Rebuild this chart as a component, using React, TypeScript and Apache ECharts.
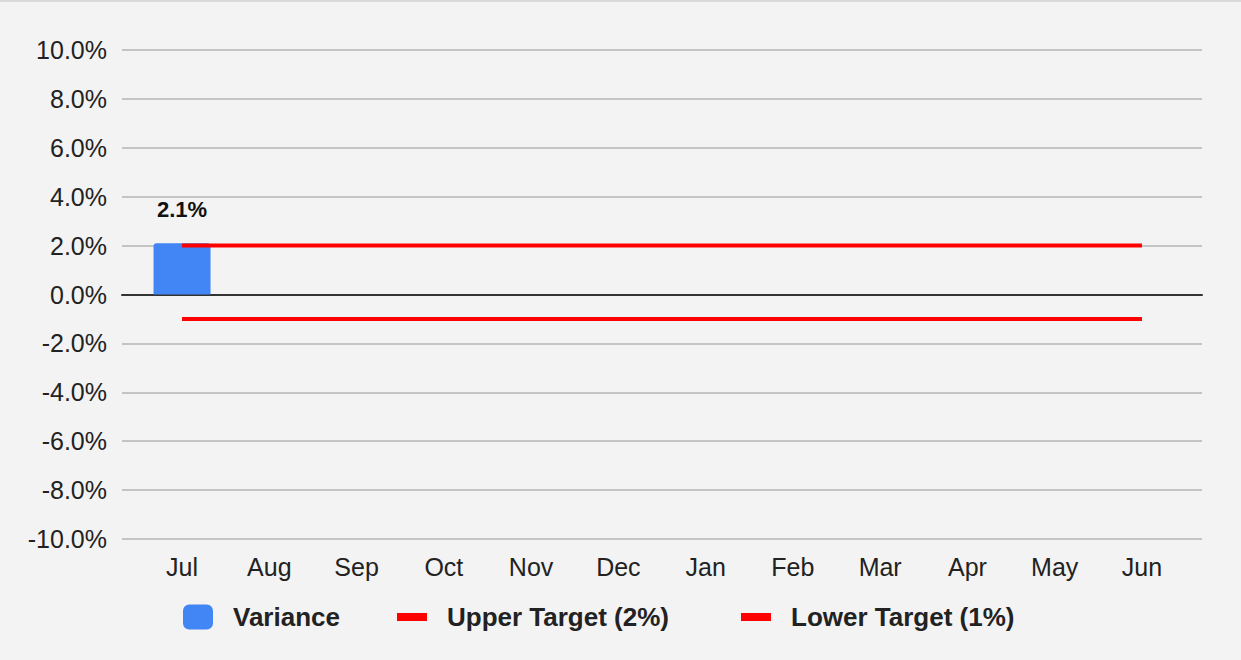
import React, { useEffect, useRef } from "react";
import * as echarts from "echarts";

const months = ["Jul", "Aug", "Sep", "Oct", "Nov", "Dec", "Jan", "Feb", "Mar", "Apr", "May", "Jun"];
const variance: (number | null)[] = [0.021, null, null, null, null, null, null, null, null, null, null, null];
const upperTarget = [0.02, 0.02, 0.02, 0.02, 0.02, 0.02, 0.02, 0.02, 0.02, 0.02, 0.02, 0.02];
const lowerTarget = [-0.01, -0.01, -0.01, -0.01, -0.01, -0.01, -0.01, -0.01, -0.01, -0.01, -0.01, -0.01];
const seriesNames = ["Variance", "Upper Target (2%)", "Lower Target (1%)"];
const yMin = -0.1;
const yMax = 0.1;
const yStep = 0.02;

const FONT = "'Liberation Sans', Arial, sans-serif";

function pct(v: number): string {
  const p = Math.round(v * 1000) / 10;
  return (p === 0 ? 0 : p).toFixed(1) + "%";
}

const legendText = {
  color: "#222222",
  fontSize: 26,
  fontWeight: "bold",
  fontFamily: FONT,
  padding: [0, 0, 0, 15],
};

export default function App() {
  const ref = useRef<HTMLDivElement>(null);
  useEffect(() => {
    document.body.style.margin = "0";
    const chart = echarts.init(ref.current!, null, { renderer: "svg" });
    const legendLefts = [183, 397, 741];
    const legendIcons = ["roundRect", "path://M0,0H30V8H0Z", "path://M0,0H30V8H0Z"];
    const legendColors = ["#4285f4", "#ff0000", "#ff0000"];
    chart.setOption({
      animation: false,
      backgroundColor: "#f3f3f3",
      textStyle: { fontFamily: FONT },
      graphic: [
        { type: "rect", left: 0, top: 0, shape: { width: 1241, height: 2 }, style: { fill: "#dadada" }, silent: true },
      ],
      grid: [
        { left: 122, right: 39, top: 50, bottom: 121 },
        { left: 138.4, right: 55.4, top: 50, bottom: 121 },
      ],
      xAxis: [
        {
          gridIndex: 0,
          type: "value",
          min: 0,
          max: 1,
          axisLabel: { show: false },
          axisTick: { show: false },
          splitLine: { show: false },
          axisLine: { show: true, onZero: true, lineStyle: { color: "#333333", width: 2 } },
        },
        {
          gridIndex: 1,
          type: "category",
          data: months,
          axisLine: { show: false },
          axisTick: { show: false },
          axisLabel: { color: "#222222", fontSize: 25, fontFamily: FONT, margin: 15, interval: 0 },
        },
      ],
      yAxis: [
        {
          gridIndex: 0,
          type: "value",
          min: yMin,
          max: yMax,
          interval: yStep,
          axisLine: { show: false },
          axisTick: { show: false },
          axisLabel: { color: "#222222", fontSize: 25, fontFamily: FONT, margin: 15, formatter: pct },
          splitLine: { show: true, lineStyle: { color: "#c4c4c4", width: 2 } },
        },
        {
          gridIndex: 1,
          type: "value",
          min: yMin,
          max: yMax,
          interval: yStep,
          show: false,
          splitLine: { show: false },
        },
      ],
      legend: seriesNames.map((name, i) => ({
        left: legendLefts[i],
        top: 604,
        padding: 0,
        itemWidth: 30,
        itemHeight: 25,
        textStyle: legendText,
        data: [{ name, icon: legendIcons[i], itemStyle: { color: legendColors[i] } }],
      })),
      series: [
        {
          name: seriesNames[0],
          type: "bar",
          xAxisIndex: 1,
          yAxisIndex: 1,
          data: variance,
          barWidth: 57,
          itemStyle: { color: "#4285f4", borderRadius: [3, 3, 0, 0] },
          label: {
            show: true,
            position: "top",
            distance: 23,
            color: "#111111",
            fontSize: 22,
            fontWeight: "bold",
            fontFamily: FONT,
            formatter: (p: any) => pct(p.value),
          },
        },
        {
          name: seriesNames[1],
          type: "line",
          xAxisIndex: 1,
          yAxisIndex: 1,
          data: upperTarget,
          showSymbol: false,
          symbol: "none",
          lineStyle: { color: "#ff0000", width: 4 },
          itemStyle: { color: "#ff0000" },
        },
        {
          name: seriesNames[2],
          type: "line",
          xAxisIndex: 1,
          yAxisIndex: 1,
          data: lowerTarget,
          showSymbol: false,
          symbol: "none",
          lineStyle: { color: "#ff0000", width: 4 },
          itemStyle: { color: "#ff0000" },
        },
      ],
    });
    return () => chart.dispose();
  }, []);
  return <div ref={ref} style={{ width: 1241, height: 660 }} />;
}
